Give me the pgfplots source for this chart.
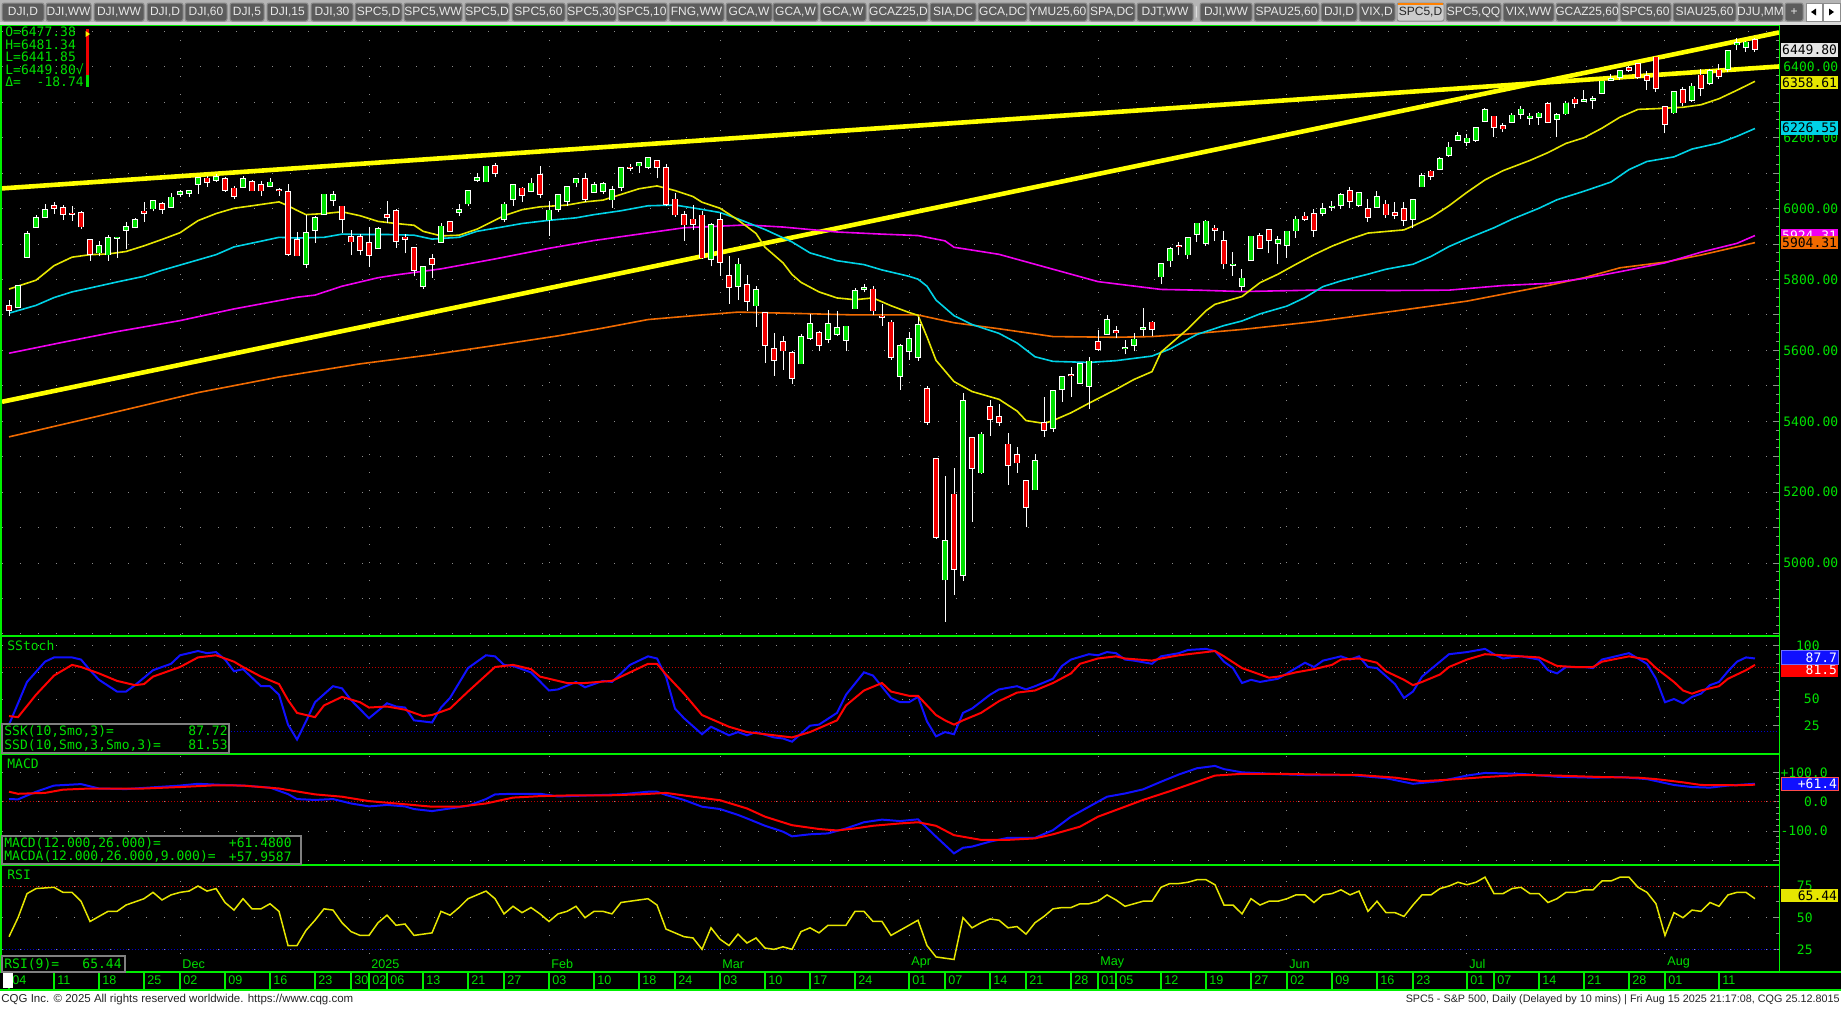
\documentclass[border=0pt]{standalone}
\usepackage{pgfplots}
\pgfplotsset{compat=1.18}
\usepackage{pgfplotstable}
\usepackage{fontspec}
\setmainfont{Liberation Sans}
\newfontfamily\monof{DejaVu Sans Mono}
\definecolor{cgreen}{HTML}{00E000}
\definecolor{bgreen}{HTML}{00F000}
\definecolor{cred}{HTML}{F00000}
\definecolor{gridgray}{HTML}{8C8C8C}
\definecolor{trendy}{HTML}{FFFF00}
\definecolor{maA}{HTML}{E6E600}
\definecolor{maB}{HTML}{00D2E6}
\definecolor{maC}{HTML}{F000F0}
\definecolor{maD}{HTML}{F06A00}
\definecolor{sblue}{HTML}{1010FF}
\definecolor{sred}{HTML}{FF0000}
\definecolor{tabfill}{HTML}{5C5C5C}
\definecolor{tabtext}{HTML}{E8E8E8}
\definecolor{tabbar}{HTML}{B4B4B4}
\newcommand\tickf{\monof\fontsize{6.5}{7}\selectfont}
\newcommand\datef{\fontsize{6.3}{7}\selectfont}
\newcommand\tabf{\fontsize{6}{6.5}\selectfont}
\newcommand\footf{\fontsize{5.4}{6}\selectfont}
\newcommand\footlf{\fontsize{5.75}{6}\selectfont}

\pgfplotstableread{
i o h l c
0 5725 5741 5696 5713
1 5722 5783 5722 5783
2 5864 5936 5864 5929
3 5947 5983 5947 5973
4 5976 6012 5976 5996
5 6008 6018 5986 6001
6 6003 6009 5969 5984
7 5986 6008 5966 5985
8 5989 5993 5942 5949
9 5912 5915 5853 5871
10 5876 5909 5865 5894
11 5870 5925 5853 5917
12 5917 5920 5860 5918
13 5940 5963 5885 5949
14 5947 5973 5944 5969
15 5992 6020 5963 5987
16 6000 6025 5992 6022
17 6014 6020 5985 5999
18 6004 6044 6003 6032
19 6040 6053 6034 6047
20 6043 6053 6033 6050
21 6070 6087 6041 6086
22 6085 6092 6062 6075
23 6081 6099 6076 6090
24 6083 6088 6048 6053
25 6057 6065 6027 6035
26 6060 6093 6060 6084
27 6075 6080 6050 6051
28 6068 6079 6035 6051
29 6063 6085 6060 6074
30 6053 6057 6035 6051
31 6048 6070 5867 5872
32 5912 5935 5866 5867
33 5843 5982 5832 5931
34 5940 5978 5903 5974
35 5984 6040 5983 6040
36 6024 6049 6008 6038
37 6006 6006 5932 5971
38 5920 5940 5869 5907
39 5920 5929 5868 5882
40 5903 5949 5835 5869
41 5888 5949 5888 5942
42 5982 6022 5960 5975
43 5993 6000 5890 5909
44 5919 5928 5874 5914
45 5890 5891 5809 5827
46 5782 5837 5773 5836
47 5859 5871 5805 5843
48 5905 5960 5905 5950
49 5962 5964 5937 5937
50 5990 6014 5978 5996
51 6014 6051 6006 6049
52 6080 6100 6076 6086
53 6076 6119 6075 6119
54 6121 6128 6089 6101
55 5970 6018 5962 6012
56 6026 6069 6008 6068
57 6057 6062 6018 6039
58 6050 6087 6046 6071
59 6096 6120 6031 6041
60 5969 6022 5923 5995
61 5998 6042 5990 6038
62 6021 6062 6007 6061
63 6073 6084 6060 6084
64 6083 6101 6020 6026
65 6047 6074 6046 6066
66 6049 6076 6042 6069
67 6025 6064 6003 6052
68 6060 6116 6051 6115
69 6115 6127 6107 6114
70 6121 6130 6100 6130
71 6117 6147 6111 6144
72 6134 6134 6085 6118
73 6114 6125 6008 6013
74 6026 6044 5977 5983
75 5983 5992 5908 5955
76 5970 6010 5940 5956
77 5981 5994 5858 5862
78 5857 5959 5837 5954
79 5968 5987 5810 5850
80 5811 5866 5732 5778
81 5781 5860 5742 5843
82 5785 5812 5711 5739
83 5726 5783 5667 5770
84 5705 5705 5564 5615
85 5604 5649 5529 5572
86 5624 5642 5546 5599
87 5594 5597 5505 5522
88 5563 5645 5563 5639
89 5635 5703 5630 5675
90 5650 5654 5598 5615
91 5632 5715 5620 5675
92 5646 5711 5641 5663
93 5630 5670 5598 5668
94 5718 5775 5718 5768
95 5772 5786 5764 5777
96 5772 5782 5700 5712
97 5696 5732 5670 5693
98 5679 5685 5573 5581
99 5528 5618 5489 5612
100 5597 5651 5574 5633
101 5580 5695 5571 5671
102 5492 5500 5390 5397
103 5293 5293 5069 5074
104 4953 5247 4835 5062
105 5194 5268 4911 4983
106 4966 5481 4950 5457
107 5353 5353 5116 5268
108 5255 5371 5251 5363
109 5441 5459 5358 5406
110 5412 5450 5386 5397
111 5335 5367 5220 5276
112 5305 5328 5255 5283
113 5232 5232 5101 5158
114 5207 5309 5207 5288
115 5396 5469 5356 5376
116 5381 5487 5371 5485
117 5490 5528 5455 5525
118 5530 5553 5468 5529
119 5508 5562 5505 5561
120 5499 5581 5434 5569
121 5625 5658 5598 5604
122 5645 5700 5644 5687
123 5655 5670 5635 5650
124 5605 5629 5589 5607
125 5614 5650 5597 5631
126 5660 5721 5640 5664
127 5679 5683 5642 5660
128 5808 5845 5786 5844
129 5853 5892 5836 5887
130 5895 5906 5868 5893
131 5870 5917 5859 5917
132 5929 5958 5907 5958
133 5903 5969 5895 5964
134 5944 5953 5908 5940
135 5908 5938 5830 5845
136 5841 5878 5811 5842
137 5781 5829 5767 5803
138 5854 5924 5854 5922
139 5924 5930 5886 5889
140 5939 5943 5874 5912
141 5902 5922 5843 5912
142 5897 5937 5862 5936
143 5938 5978 5918 5970
144 5978 5990 5966 5971
145 5985 5999 5921 5939
146 5987 6016 5978 6000
147 6004 6022 5994 6006
148 6009 6043 5999 6039
149 6049 6060 6003 6022
150 6010 6045 6004 6045
151 6000 6027 5963 5977
152 6004 6051 6004 6033
153 6012 6023 5974 5983
154 5987 6018 5971 5981
155 5999 6018 5952 5968
156 5970 6026 5944 6025
157 6062 6101 6062 6092
158 6105 6108 6081 6092
159 6112 6146 6108 6141
160 6151 6188 6146 6173
161 6194 6216 6193 6205
162 6187 6210 6178 6198
163 6193 6227 6188 6227
164 6247 6284 6243 6279
165 6260 6262 6202 6230
166 6233 6242 6217 6226
167 6244 6269 6241 6263
168 6266 6290 6252 6280
169 6256 6269 6237 6260
170 6258 6272 6236 6269
171 6296 6302 6241 6244
172 6253 6269 6201 6264
173 6268 6303 6265 6297
174 6308 6316 6285 6297
175 6304 6336 6303 6306
176 6307 6317 6282 6310
177 6326 6360 6323 6359
178 6363 6381 6360 6366
179 6371 6390 6362 6389
180 6397 6402 6386 6390
181 6409 6409 6366 6371
182 6374 6389 6335 6363
183 6427 6428 6330 6339
184 6288 6288 6212 6238
185 6271 6330 6268 6330
186 6336 6344 6289 6299
187 6307 6353 6301 6345
188 6376 6395 6317 6340
189 6355 6395 6350 6389
190 6390 6409 6365 6373
191 6394 6446 6385 6446
192 6463 6481 6447 6467
193 6455 6474 6442 6469
194 6477 6481 6442 6450
}\candles

\pgfplotstableread{
x y
0 5773
3 5798
5 5839
7 5863
9 5870
11 5872
13 5879
15 5895
17 5913
19 5932
21 5966
23 5986
25 6001
27 6008
30 6019
31 6008
32 5995
33 5983
35 5986
37 5991
39 5980
41 5964
43 5958
45 5953
46 5936
48 5923
50 5925
52 5942
55 5980
57 5997
59 6005
62 6010
64 6019
66 6024
68 6040
70 6056
72 6064
74 6051
76 6034
77 6018
79 6001
81 5968
83 5930
84 5891
86 5847
87 5814
88 5792
90 5765
92 5748
94 5743
96 5748
98 5726
100 5707
101 5699
102 5638
103 5572
105 5512
107 5484
110 5462
112 5429
113 5402
115 5394
116 5402
118 5424
120 5451
123 5490
125 5518
127 5540
128 5595
131 5661
133 5712
134 5730
137 5752
139 5791
141 5815
143 5843
145 5870
147 5894
149 5914
151 5931
155 5940
156 5951
158 5975
160 6008
162 6046
164 6081
166 6107
169 6136
171 6158
173 6184
175 6200
177 6227
179 6258
181 6280
183 6282
186 6286
188 6293
190 6310
192 6334
194 6359
}\maAt

\pgfplotstableread{
x y
0 5705
3 5727
5 5749
7 5765
9 5776
12 5793
15 5809
17 5826
20 5848
23 5870
25 5892
28 5908
30 5919
32 5917
35 5919
37 5928
39 5927
42 5927
45 5925
47 5914
50 5919
52 5936
55 5949
57 5958
60 5967
63 5974
65 5983
68 5994
71 6008
74 6010
76 6002
79 5989
81 5971
84 5941
87 5906
89 5875
92 5853
95 5842
97 5827
100 5809
101 5801
102 5781
103 5742
105 5698
107 5673
110 5648
112 5621
114 5582
116 5569
120 5566
123 5571
127 5584
129 5604
132 5645
135 5670
137 5683
139 5703
142 5725
144 5749
146 5780
148 5796
151 5815
153 5829
156 5843
158 5865
160 5893
162 5915
165 5946
167 5970
170 6001
172 6025
175 6049
178 6075
180 6110
182 6133
185 6146
187 6168
190 6185
192 6204
194 6226
}\maBt

\pgfplotstableread{
x y
0 5592
6 5623
12 5653
19 5684
25 5717
32 5750
34 5756
37 5781
41 5805
43 5813
48 5830
54 5858
60 5888
65 5910
70 5928
75 5946
82 5954
86 5948
92 5934
97 5928
101 5924
104 5909
105 5891
110 5871
116 5829
121 5794
128 5772
132 5770
137 5766
145 5770
154 5769
160 5770
166 5783
171 5789
175 5803
179 5822
184 5847
188 5877
192 5902
194 5924
}\maCt

\pgfplotstableread{
x y
0 5356
10 5415
21 5481
30 5525
39 5562
47 5588
54 5614
61 5641
66 5663
71 5687
77 5700
81 5708
88 5704
94 5700
101 5700
105 5678
110 5661
116 5639
123 5637
127 5639
132 5648
137 5659
145 5681
154 5711
162 5739
171 5783
175 5805
179 5833
184 5849
188 5869
194 5904
}\maDt

\pgfplotstableread{
x y
0 26
2 66
4 85
5 89
7 89
8 87
9 77
10 68
12 57
13 57
14 63
16 77
18 83
19 91
21 95
22 93
23 94
24 87
25 76
26 78
28 62
29 62
30 54
31 26
32 12
33 29
34 47
36 62
37 60
38 49
40 32
42 46
43 43
44 42
45 30
47 28
48 42
49 51
51 79
53 91
54 90
55 82
56 81
58 75
60 58
61 59
63 66
64 61
66 67
67 66
69 82
71 90
72 88
73 71
74 41
75 32
77 17
78 24
80 16
81 19
82 16
83 19
85 14
86 13
87 10
89 25
90 26
92 37
93 54
95 75
96 72
98 51
99 47
100 47
101 52
102 29
103 15
104 19
105 17
106 37
107 41
109 54
110 59
112 62
113 59
114 62
116 69
117 81
118 87
120 92
121 91
122 94
123 93
124 87
125 86
127 83
128 90
130 93
131 96
133 97
134 95
135 85
136 79
137 65
138 68
139 66
141 69
143 79
144 84
145 80
146 86
148 90
149 87
150 90
151 80
152 79
154 64
155 51
156 57
157 71
159 85
160 92
162 94
164 97
165 92
166 88
167 89
168 90
170 87
171 77
172 74
173 80
175 80
176 79
177 87
178 89
180 93
181 88
182 83
183 69
184 47
185 50
186 46
187 52
188 55
189 63
190 66
191 76
192 85
193 89
194 88
}\ssk

\pgfplotstableread{
x y
0 34
1 33
3 54
5 72
7 82
8 80
10 74
12 67
14 63
15 64
16 71
19 80
21 89
23 91
25 85
26 80
28 71
30 64
31 49
32 37
34 33
35 44
37 52
39 47
40 42
42 43
44 40
46 34
47 35
49 41
51 57
54 80
56 82
58 78
59 71
62 65
64 65
67 67
69 75
71 83
72 83
73 73
75 55
77 35
80 24
82 19
84 17
87 14
89 19
92 30
93 44
95 58
97 65
98 57
100 53
101 53
102 44
103 35
104 30
105 26
106 30
108 37
110 48
112 56
114 58
116 65
118 74
119 83
121 88
123 90
124 88
127 86
128 88
130 91
132 93
134 95
135 90
137 79
139 73
140 70
141 71
143 75
145 78
147 82
148 87
150 88
152 84
153 76
155 68
156 63
157 66
159 73
160 80
162 87
164 92
166 91
168 90
170 89
172 81
174 80
176 80
177 85
180 90
182 87
183 79
185 66
186 58
187 55
188 58
190 62
191 69
193 77
194 82
}\ssd

\pgfplotstableread{
x y
0 9
1 8
3 34
5 55
8 60
10 45
13 43
16 49
19 55
21 61
24 57
26 55
29 48
31 26
32 9
34 6
36 9
38 -6
40 -16
42 -11
44 -16
45 -25
47 -32
49 -23
51 -14
53 9
54 25
56 27
59 27
61 18
63 20
66 23
68 25
71 34
72 34
73 23
75 6
77 -17
79 -25
81 -45
82 -57
84 -82
86 -102
87 -118
89 -111
91 -108
93 -91
95 -70
97 -61
99 -66
101 -60
103 -119
105 -176
106 -157
107 -153
109 -136
111 -123
112 -123
114 -123
116 -97
118 -51
120 -17
122 17
124 28
126 42
128 68
130 93
132 114
134 122
135 111
137 100
141 94
144 91
149 91
153 80
156 61
159 70
162 89
164 98
168 95
172 85
176 82
179 84
182 77
185 57
187 50
189 48
191 55
194 61
}\macd

\pgfplotstableread{
x y
0 34
1 27
4 30
6 41
9 45
15 45
19 50
23 56
26 55
30 45
34 25
37 17
40 2
43 -6
47 -17
50 -17
53 -6
56 14
59 19
63 22
67 22
70 25
73 30
76 17
79 5
82 -23
84 -51
87 -80
90 -93
92 -98
94 -91
96 -82
99 -74
101 -70
103 -82
105 -114
108 -130
111 -130
114 -125
116 -111
119 -85
121 -51
124 -17
126 6
129 36
132 68
134 89
137 95
141 95
145 93
150 91
154 82
157 70
160 75
164 84
168 91
172 89
177 84
181 82
183 77
186 66
188 57
192 56
194 58
}\macda

\pgfplotstableread{
x y
0 35
1 50
2 69
3 73
5 74
6 70
7 70
8 63
9 47
11 55
12 55
13 60
15 65
16 70
17 64
18 68
19 70
20 71
21 75
22 71
23 73
24 62
25 56
26 65
27 57
28 57
29 61
30 55
31 28
32 28
33 40
34 48
35 57
36 56
37 46
38 39
39 36
40 36
41 46
42 52
43 44
44 45
45 36
46 37
47 38
48 55
49 52
50 58
51 65
53 71
54 65
55 53
56 59
57 54
58 58
59 53
60 47
61 53
62 55
63 59
64 50
65 55
66 55
67 53
68 62
69 63
71 65
72 60
73 41
75 35
76 34
77 25
78 42
79 33
80 28
81 37
82 30
83 34
84 26
85 25
86 27
87 25
88 39
89 42
90 38
91 44
93 44
94 55
95 55
96 47
97 47
98 36
99 40
100 44
101 48
102 28
103 19
104 18
105 17
106 50
107 42
108 46
109 49
110 48
111 42
112 43
113 37
114 46
115 51
116 57
117 58
118 58
119 61
120 61
121 63
122 68
123 64
124 59
125 61
126 63
127 63
128 74
129 77
130 77
131 78
132 80
133 80
134 76
135 60
136 60
137 53
138 65
139 60
140 63
141 63
142 65
143 68
144 68
145 62
146 68
147 69
148 72
149 68
150 71
151 55
152 63
153 54
154 54
155 51
156 60
157 68
158 68
159 73
160 75
161 78
162 76
163 78
164 82
165 69
166 69
167 73
168 74
169 69
170 69
171 62
172 65
173 70
174 70
175 72
176 72
177 79
178 79
179 82
180 82
181 74
182 70
183 61
184 36
185 54
186 50
187 56
188 55
189 62
190 59
191 68
192 70
193 70
194 65
}\rsi

\pgfplotsset{panel/.style={
  scale only axis, width=888.5pt, anchor=north west,
  xmin=-0.78, xmax=196.67,
  axis line style={draw=none},
  xtick={19,40,60,79,100,121,142,162,184}, xticklabels={}, xtick style={draw=none},
  xmajorgrids, ymajorgrids,
  grid style={draw=gridgray, line width=0.5pt, dash pattern=on 0.5pt off 8.5pt},
  ytick pos=right, yticklabel pos=right,
  ytick style={draw=gridgray, line width=0.5pt},
  tick align=inside, major tick length=3pt, minor tick length=1.5pt,
  yticklabel style={font=\tickf, text=cgreen, inner sep=0pt},
}}

\begin{document}
\begin{tikzpicture}[x=0.5pt,y=-0.5pt]
\useasboundingbox (0,0) rectangle (1841,1008);
% backgrounds
\fill[tabbar] (0,0) rectangle (1841,24);
\fill[black!15] (0,21.5) rectangle (1841,24.5);
\fill[black] (0,24.5) rectangle (1841,990);
\fill[white] (0,990.5) rectangle (1841,1008);

% ---------------- main price panel
\begin{axis}[panel, at={(1pt,-12.5pt)}, height=305pt,
  ymin=4797, ymax=6518,
  ytick={4800,4900,5000,5100,5200,5300,5400,5500,5600,5700,5800,5900,6000,6100,6200,6300,6400,6500},
  yticklabels={{},{},5000.00,{},5200.00,{},5400.00,{},5600.00,{},5800.00,{},6000.00,{},6200.00,{},6400.00,{}},
  minor y tick num=3,
  yticklabel style={anchor=west, xshift=2pt},
  point meta min=-1, point meta max=1,
  colormap={rg}{color=(cred) color=(cgreen)}, colormap access=piecewise constant,
]
\addplot[trendy, line width=2.3pt] coordinates {(-0.78,6057) (196.67,6401)};
\addplot[trendy, line width=2.3pt] coordinates {(-0.78,5455) (196.67,6497)};
\addplot[maD, line width=0.8pt] table {\maDt};
\addplot[maC, line width=0.8pt] table {\maCt};
\addplot[maB, line width=0.8pt] table {\maBt};
\addplot[maA, line width=0.8pt] table {\maAt};
% candles
\addplot[white, line width=0.5pt, quiver={u=0, v={\thisrow{h}-\thisrow{l}}}] table[x=i, y=l] {\candles};
\addplot[white, line width=2.7pt, quiver={u=0, v={abs(\thisrow{c}-\thisrow{o})+4.2}}] table[x=i, y expr={min(\thisrow{o},\thisrow{c})-2.1}] {\candles};
\addplot[line width=1.9pt, point meta={\thisrow{c}-\thisrow{o}}, quiver={u=0, v={max(abs(\thisrow{c}-\thisrow{o}),2.8)}, colored=mapped color}] table[x=i, y expr={min(\thisrow{o},\thisrow{c})}] {\candles};
\end{axis}

% ---------------- SStoch
\begin{axis}[panel, at={(1pt,-318pt)}, height=59pt, ymin=-1.56, ymax=109.06,
  ytick={25,50,75,100}, yticklabels={25,50,75,100}, minor y tick num=2,
  yticklabel style={anchor=east, xshift=20.5pt}]
\addplot[red!75!black, line width=0.5pt, dash pattern=on 0.5pt off 1pt] coordinates {(-1,80) (197,80)};
\addplot[blue!80!black, line width=0.5pt, dash pattern=on 0.5pt off 1pt] coordinates {(-1,20) (197,20)};
\addplot[sblue, line width=1pt] table {\ssk};
\addplot[sred, line width=1pt] table {\ssd};
\end{axis}

% ---------------- MACD
\begin{axis}[panel, at={(1pt,-377pt)}, height=55.5pt, ymin=-215.7, ymax=162.5,
  ytick={-200,-100,0,100}, yticklabels={{},-100.0,0.0,+100.0}, minor y tick num=4,
  yticklabel style={anchor=east, xshift=24.5pt}]
\addplot[red!75!black, line width=0.5pt, dash pattern=on 0.5pt off 1pt] coordinates {(-1,0) (197,0)};
\addplot[sblue, line width=1pt] table {\macd};
\addplot[sred, line width=1pt] table {\macda};
\end{axis}

% ---------------- RSI
\begin{axis}[panel, at={(1pt,-432.5pt)}, height=53.5pt, ymin=7.1, ymax=91.6,
  ytick={25,50,75}, yticklabels={25,50,75}, minor y tick num=1,
  yticklabel style={anchor=east, xshift=17pt},
  xticklabels={Dec,2025,Feb,Mar,Apr,May,Jun,Jul,Aug},
  xticklabel style={anchor=south west, inner sep=0pt, font=\datef, text=cgreen, xshift=1pt, yshift=1.5pt}]
\addplot[red!75!black, line width=0.5pt, dash pattern=on 0.5pt off 1pt] coordinates {(-1,75) (197,75)};
\addplot[blue!80!black, line width=0.5pt, dash pattern=on 0.5pt off 1pt] coordinates {(-1,25) (197,25)};
\addplot[maA, line width=0.75pt] table {\rsi};
\end{axis}

% ---------------- date row
\begin{axis}[scale only axis, width=888.5pt, height=9pt, anchor=north west, at={(1pt,-486pt)},
  xmin=-0.78, xmax=196.67, ymin=0, ymax=1, axis line style={draw=none}, ytick=\empty,
  xtick={0,5,10,15,19,24,29,34,38,40,42,46,51,55,60,65,70,74,79,84,89,94,100,104,109,113,118,121,123,128,133,138,142,147,152,156,162,165,170,175,180,184,190},
  xticklabels={04,11,18,25,02,09,16,23,30,02,06,13,21,27,03,10,18,24,03,10,17,24,01,07,14,21,28,01,05,12,19,27,02,09,16,23,01,07,14,21,28,01,11},
  xtick style={draw=none}, xmajorgrids, grid style={draw=bgreen, line width=0.6pt, solid},
  xticklabel style={anchor=south west, inner sep=0pt, font=\datef, text=cgreen, xshift=1.5pt, yshift=2.5pt}]
\addplot[draw=none] coordinates {(0,0.5)};
\end{axis}
\fill[white] (3,973) rectangle (13,988);

% ---------------- borders
\draw[bgreen, line width=0.5pt] (0,25) -- (1779,25);
\draw[bgreen, line width=1pt] (1,25) -- (1,972);
\draw[bgreen, line width=0.7pt] (1779.5,25) -- (1779.5,972);
\draw[bgreen, line width=1.25pt] (0,636) -- (1779,636);
\draw[bgreen, line width=1.25pt] (0,754) -- (1779,754);
\draw[bgreen, line width=1.25pt] (0,865) -- (1779,865);
\draw[bgreen, line width=0.7pt] (0,972) -- (1841,972);
\draw[bgreen, line width=0.7pt] (0,990) -- (1841,990);

% ---------------- info box
\begin{scope}[every node/.style={anchor=west, font=\tickf, text=cgreen, inner sep=0pt}]
\node at (5,32) {O=6477.38};
\node at (5,45) {H=6481.34};
\node at (5,57) {L=6441.85};
\node at (5,69.5) {L=6449.80√};
\node at (5,82) {Δ=\ \ -18.74};
\node at (7,646) {SStoch};
\node at (7,764) {MACD};
\node at (7,875) {RSI};
\end{scope}
\fill[cred] (86,29) rectangle (89,75);
\fill[cgreen] (86,75) rectangle (89,87);
\fill[yellow] (85.5,31) -- (90,34) -- (85.5,37) -- cycle;

% legend boxes
\draw[gray, fill=black, line width=0.6pt] (2,724) rectangle (229,753);
\draw[gray, fill=black, line width=0.6pt] (2,836) rectangle (301,864);
\draw[gray, fill=black, line width=0.6pt] (2,956) rectangle (125,972);
\begin{scope}[every node/.style={font=\tickf, text=cgreen, inner sep=0pt}]
\node[anchor=west] at (4,731) {SSK(10,Smo,3)=};
\node[anchor=east] at (228,731) {87.72};
\node[anchor=west] at (4,745) {SSD(10,Smo,3,Smo,3)=};
\node[anchor=east] at (228,745) {81.53};
\node[anchor=west] at (4,843) {MACD(12.000,26.000)=};
\node[anchor=east] at (292,843) {+61.4800};
\node[anchor=west] at (4,856.5) {MACDA(12.000,26.000,9.000)=};
\node[anchor=east] at (292,856.5) {+57.9587};
\node[anchor=west] at (4,964) {RSI(9)=};
\node[anchor=east] at (122,964) {65.44};
\end{scope}

% value boxes on the right
\begin{scope}[every node/.style={font=\tickf, inner sep=0pt, minimum width=28.5pt, minimum height=6.8pt, text width=27.5pt, align=right}]
\node[fill=black!10, text=black] at (1809.5,50) {6449.80};
\node[fill=maA, text=black] at (1809.5,82.5) {6358.61};
\node[fill=maB, text=black] at (1809.5,128) {6226.55};
\node[fill=maC, text=white] at (1809.5,235.5) {5924.31};
\node[fill=maD, text=black] at (1809.5,242.5) {5904.31};
\node[fill=sred, text=white] at (1809.5,670) {81.5};
\node[fill=sblue, text=white, draw=sblue!60] at (1809.5,657.5) {87.7};
\node[fill=sblue, text=white, draw=sred!70] at (1809.5,783.7) {+61.4};
\node[fill=maA, text=black] at (1809.5,895.5) {65.44};
\end{scope}

% ---------------- tab bar
\newcommand\tabx[3]{\draw[black!45, fill=tabfill, rounded corners=1pt, line width=0.5pt] (#1,3) rectangle (#2,21); \node[font=\tabf, text=tabtext, inner sep=0pt] at ({(#1+#2)/2},12) {#3};}
\tabx{2}{44}{DJI,D}
\tabx{46}{91}{DJI,WW}
\tabx{94}{144}{DJI,WW}
\tabx{147}{183}{DJI,D}
\tabx{185}{227}{DJI,60}
\tabx{230}{264}{DJI,5}
\tabx{267}{308}{DJI,15}
\tabx{311}{353}{DJI,30}
\tabx{355}{402}{SPC5,D}
\tabx{404}{462}{SPC5,WW}
\tabx{465}{509}{SPC5,D}
\tabx{512}{565}{SPC5,60}
\tabx{567}{616}{SPC5,30}
\tabx{618}{667}{SPC5,10}
\tabx{669}{724}{FNG,WW}
\tabx{726}{772}{GCA,W}
\tabx{773}{818}{GCA,W}
\tabx{820}{866}{GCA,W}
\tabx{869}{928}{GCAZ25,D}
\tabx{930}{976}{SIA,DC}
\tabx{978}{1027}{GCA,DC}
\tabx{1029}{1087}{YMU25,60}
\tabx{1089}{1135}{SPA,DC}
\tabx{1137}{1193}{DJT,WW}
\node[font=\tabf, text=tabtext, inner sep=0pt] at (1196.5,12) {|};
\tabx{1200}{1252}{DJI,WW}
\tabx{1254}{1319}{SPAU25,60}
\tabx{1321}{1357}{DJI,D}
\tabx{1359}{1395}{VIX,D}
\draw[black!45, fill=black!20, rounded corners=1pt, line width=0.5pt] (1397,3) rectangle (1444,21);
\draw[orange, line width=1pt] (1398,3.5) -- (1443,3.5);
\node[font=\tabf, text=black!85, inner sep=0pt] at (1420.5,12) {SPC5,D};
\tabx{1446}{1501}{SPC5,QQ}
\tabx{1503}{1554}{VIX,WW}
\tabx{1556}{1618}{GCAZ25,60}
\tabx{1620}{1671}{SPC5,60}
\tabx{1673}{1736}{SIAU25,60}
\tabx{1738}{1783}{DJU,MM}
\tabx{1785}{1803}{+}
\draw[black!45, fill=white] (1806,3) rectangle (1822,21);
\draw[black!45, fill=white] (1823,3) rectangle (1840,21);
\fill[black] (1816,8.5) -- (1811,12) -- (1816,15.5) -- cycle;
\fill[black] (1829,8.5) -- (1834,12) -- (1829,15.5) -- cycle;

% ---------------- footer
\node[anchor=west, font=\footlf, text=black!85, inner sep=0pt] at (1,999.5) {CQG Inc. © 2025 All rights reserved worldwide. https://www.cqg.com};
\node[anchor=east, font=\footf, text=black!85, inner sep=0pt] at (1840,999.5) {SPC5 - S\&P 500, Daily (Delayed by 10 mins) | Fri Aug 15 2025 21:17:08, CQG 25.12.8015};
\end{tikzpicture}
\end{document}
